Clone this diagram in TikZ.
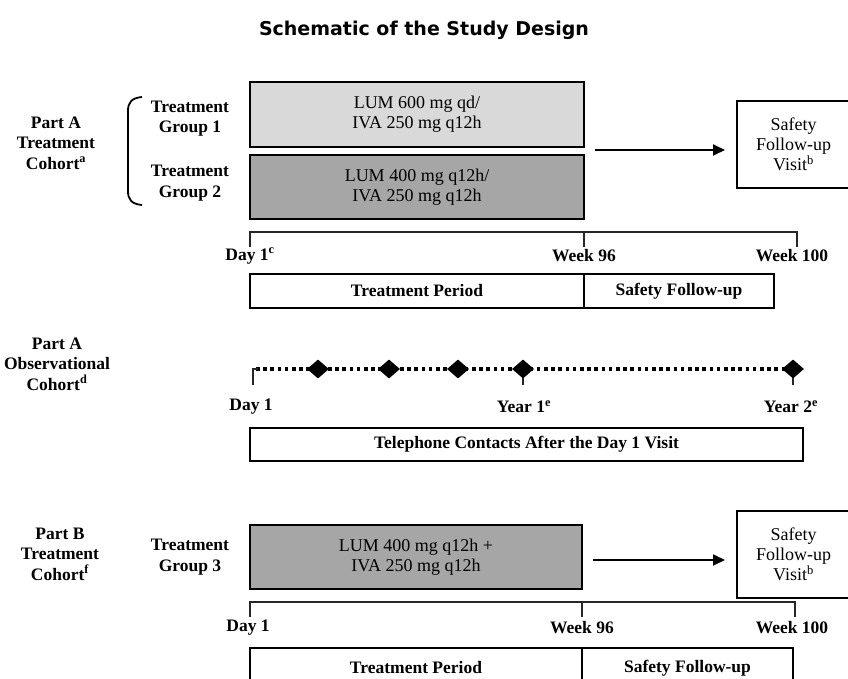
\documentclass[tikz,border=0pt]{standalone}
\usepackage{fontspec}
\setmainfont{Liberation Serif}
\newfontfamily\titlefont{DejaVu Sans}
\usetikzlibrary{arrows.meta,shapes.geometric}
\definecolor{lightgr}{HTML}{D9D9D9}
\definecolor{darkgr}{HTML}{A6A6A6}
\begin{document}
\begin{tikzpicture}[x=1pt,y=-1pt,
  lab/.style={font=\fontsize{17.5}{20.5}\selectfont\bfseries, align=center, inner sep=0pt},
  drugbox/.style={draw=black, line width=1.7pt, inner sep=0pt, font=\fontsize{18}{20}\selectfont, align=center},
  perbox/.style={draw=black, line width=1.7pt, inner sep=0pt, font=\fontsize{17.5}{20}\selectfont\bfseries, align=center},
  tl/.style={line width=1.8pt, draw=black!85},
  arr/.style={line width=1.8pt, -{Triangle[length=12pt,width=11pt]}},
  dia/.style={shape=diamond, fill=black, inner sep=0pt, minimum width=22pt, minimum height=19pt},
  dotline/.style={line width=3.8pt, dash pattern=on 3.6pt off 3.6pt, draw=black}
]
\useasboundingbox (0,0) rectangle (848,679);
\clip (0,0) rectangle (848,679);
\fill[white] (0,0) rectangle (848,679);

% title
\node[font=\titlefont\bfseries\fontsize{19}{23}\selectfont, inner sep=0pt] (title) at (424,30) {Schematic of the Study Design};

% ---------------- Part A treatment cohort
\node[lab] (partA) at (56,143) {Part A\\Treatment\\Cohort\textsuperscript{a}};
\draw[line width=1.8pt] (142,97) .. controls (131,98) and (128,103) .. (128,111) -- (128,191) .. controls (128,199) and (131,204) .. (142,205);
\node[lab] (tg1) at (190,118.5) {Treatment\\Group 1};
\node[lab] (tg2) at (190,183) {Treatment\\Group 2};
\node[drugbox, fill=lightgr, minimum width=334pt, minimum height=65pt] (g1box) at (417,114.5) {LUM 600 mg qd/\\IVA 250 mg q12h};
\node[drugbox, fill=darkgr, minimum width=334pt, minimum height=64pt] (g2box) at (417,187) {LUM 400 mg q12h/\\IVA 250 mg q12h};
\node[drugbox, minimum width=113pt, minimum height=87pt] (safeA) at (793.5,144.5) {Safety\\Follow-up\\Visit\textsuperscript{b}};
\coordinate (arrAs) at (595,150);
\coordinate (arrAe) at (725,150);
\draw[arr] (arrAs) -- (arrAe);

% timeline A
\draw[tl] (250,247) -- (250,232) -- (797,232) -- (797,247);
\draw[tl] (584,232) -- (584,247);
\node[lab] (dA1) at (250,256) {Day 1\textsuperscript{c}};
\node[lab] (wA96) at (584,256) {Week 96};
\node[lab] (wA100) at (792,256) {Week 100};
\node[perbox, minimum width=334pt, minimum height=34pt] (tpA) at (417,291) {Treatment Period};
\node[perbox, minimum width=190pt, minimum height=34pt] (sfA) at (679,291) {Safety Follow-up};

% ---------------- Part A observational cohort
\node[lab] (partAo) at (57,364) {Part A\\Observational\\Cohort\textsuperscript{d}};
\draw[dotline] (256,369) -- (795,369);
\draw[tl] (253,385) -- (253,369) -- (258,369);
\draw[tl] (523,369) -- (523,385);
\draw[tl] (793,369) -- (793,385);
\node[dia] (d1) at (318,369) {};
\node[dia] (d2) at (389,369) {};
\node[dia] (d3) at (458,369) {};
\node[dia] (d4) at (523,369) {};
\node[dia] (d5) at (793,369) {};
\node[lab] (oD1) at (251,407) {Day 1};
\node[lab] (oY1) at (524,407) {Year 1\textsuperscript{e}};
\node[lab] (oY2) at (791,407) {Year 2\textsuperscript{e}};
\node[perbox, minimum width=553pt, minimum height=33pt] (tel) at (526.5,444.5) {Telephone Contacts After the Day 1 Visit};

% ---------------- Part B treatment cohort
\node[lab] (partB) at (60,554) {Part B\\Treatment\\Cohort\textsuperscript{f}};
\node[lab] (tg3) at (190,557) {Treatment\\Group 3};
\node[drugbox, fill=darkgr, minimum width=332pt, minimum height=64pt] (g3box) at (416,557) {LUM 400 mg q12h +\\IVA 250 mg q12h};
\node[drugbox, minimum width=113pt, minimum height=87pt] (safeB) at (793.5,554.5) {Safety\\Follow-up\\Visit\textsuperscript{b}};
\coordinate (arrBs) at (593,560);
\coordinate (arrBe) at (725,560);
\draw[arr] (arrBs) -- (arrBe);

% timeline B
\draw[tl] (250,617) -- (250,602) -- (795,602) -- (795,617);
\draw[tl] (582,602) -- (582,617);
\node[lab] (dB1) at (248,628) {Day 1};
\node[lab] (wB96) at (582,628) {Week 96};
\node[lab] (wB100) at (792,628) {Week 100};
\node[perbox, minimum width=332pt, minimum height=40pt] (tpB) at (416,668) {Treatment Period};
\node[perbox, minimum width=211pt, minimum height=40pt] (sfB) at (687.5,668) {Safety Follow-up};
\end{tikzpicture}
\end{document}
